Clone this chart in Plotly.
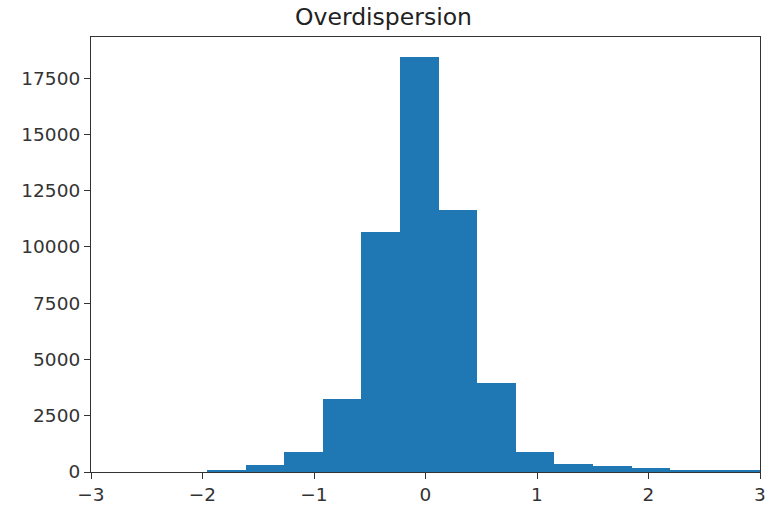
import plotly.graph_objects as go

# Histogram of overdispersion values
bin_edges = [-1.96, -1.614, -1.267, -0.921, -0.575, -0.229, 0.117, 0.463,
             0.810, 1.156, 1.502, 1.849, 2.195, 2.541, 2.887, 3.233]
counts = [90, 300, 890, 3230, 10680, 18420, 11660, 3960,
          880, 370, 250, 175, 70, 55, 45]
x_ticks = [-3, -2, -1, 0, 1, 2, 3]
y_ticks = [0, 2500, 5000, 7500, 10000, 12500, 15000, 17500]

lefts = bin_edges[:-1]
widths = [b - a for a, b in zip(bin_edges[:-1], bin_edges[1:])]
centers = [a + w / 2 for a, w in zip(lefts, widths)]

fig = go.Figure(go.Bar(
    x=centers, y=counts, width=widths,
    marker=dict(color="#1f77b4", line=dict(width=0)),
    hoverinfo="x+y",
))

axis_common = dict(
    showgrid=False, zeroline=False, showline=True, linecolor="#333333",
    linewidth=1.2, mirror=True, ticks="outside", ticklen=6, tickwidth=1.2,
    tickcolor="#333333", ticklabeloverflow="allow", automargin=False,
    tickfont=dict(family="DejaVu Sans", size=18.5, color="#333333"),
)

fig.update_layout(
    width=767, height=510,
    margin=dict(l=91, r=7, t=37, b=38),
    paper_bgcolor="white", plot_bgcolor="white",
    bargap=0, showlegend=False,
    title=dict(text="Overdispersion", x=0.5, xanchor="center", y=0.967, yanchor="middle",
               automargin=False,
               font=dict(family="DejaVu Sans", size=23.5, color="#222222")),
    xaxis=dict(range=[-3, 3], tickvals=x_ticks, **axis_common),
    yaxis=dict(range=[0, 19330], tickvals=y_ticks, tickformat="d", **axis_common),
)

fig.write_html(
    "out.html",
    config={"displayModeBar": False},
    post_script="document.body.style.margin='0';document.body.style.overflow='hidden';",
)
